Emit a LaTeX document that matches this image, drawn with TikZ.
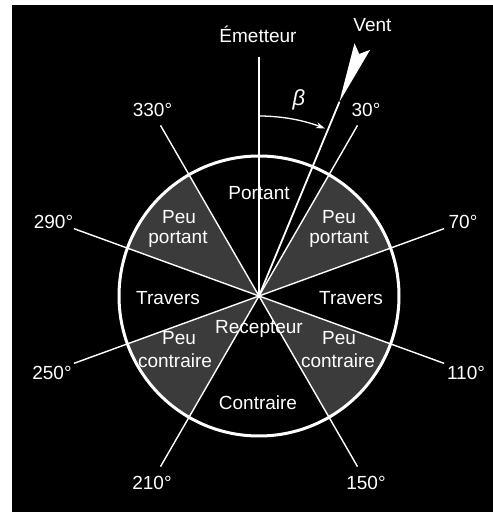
\documentclass[tikz,border=0pt]{standalone}
\usepackage{fontspec}
\setmainfont{Liberation Sans}
\usetikzlibrary{calc,arrows.meta}
\begin{document}
\begin{tikzpicture}[x=1pt,y=1pt,
  lbl/.style={text=white, font=\fontsize{19}{21}\selectfont, inner sep=0pt, anchor=base},
  radial/.style={draw=white, line width=1.4pt},
  shade/.style={fill=black!77},
]
\useasboundingbox (0,0) rectangle (493,512);
\fill[white] (0,0) rectangle (493,512);
\fill[black] (12,0) rectangle (493,507);

\coordinate (C) at (259,216);
% shaded sectors
\foreach \a in {20,-60,-160,120}{
  \fill[shade] (C) -- ($(C)+(\a:140)$) arc[start angle=\a, delta angle=40, radius=140pt] -- cycle;
}
% radial line ends
\coordinate (e30) at ($(C)+(60:197)$);
\coordinate (e70) at ($(C)+(20:197)$);
\coordinate (e110) at ($(C)+(-20:197)$);
\coordinate (e150) at ($(C)+(-60:197)$);
\coordinate (e210) at ($(C)+(-120:197)$);
\coordinate (e250) at ($(C)+(-160:197)$);
\coordinate (e290) at ($(C)+(160:197)$);
\coordinate (e330) at ($(C)+(120:197)$);
\foreach \e in {e30,e70,e110,e150,e210,e250,e290,e330}{
  \draw[radial] (C) -- (\e);
}
\draw[white, line width=3pt] (C) circle[radius=140pt];
\coordinate (top) at (259,455);
\draw[white, line width=2pt] (C) -- (top);

% wind
\coordinate (wtip) at ($(C)+(67.5:210)$);
\coordinate (wbl) at ($(C)+(67.5:270)+(157.5:8.5)$);
\coordinate (wbr) at ($(C)+(67.5:270)+(-22.5:8.5)$);
\coordinate (wn) at ($(C)+(67.5:262)$);
\draw[white, line width=1.8pt] (C) -- (wtip);
\fill[white] (wtip) -- (wbl) -- (wn) -- (wbr) -- cycle;

% beta arc
\coordinate (bs) at ($(C)+(90:180)$);
\draw[white, line width=1.3pt, -{Stealth[length=9pt,width=6pt]}] (bs) arc[start angle=90, end angle=68.5, radius=180pt];
\node[lbl, font=\fontsize{22}{24}\selectfont] (beta) at (299,406) {\itshape β};

% outer labels
\node[lbl] (emet) at (258,469.3) {Émetteur};
\node[lbl] (vent) at (372.5,480.3) {Vent};
\node[lbl] (l330) at (152.5,395.3) {330°};
\node[lbl] (l30) at (366,395) {30°};
\node[lbl] (l290) at (53.5,283.7) {290°};
\node[lbl] (l70) at (463,283.5) {70°};
\node[lbl] (l250) at (52,132) {250°};
\node[lbl] (l110) at (466,132) {110°};
\node[lbl] (l210) at (152,22) {210°};
\node[lbl] (l150) at (366,22) {150°};

% sector labels
\node[lbl] (portant) at (259,312.5) {Portant};
\node[lbl] (pp1L) at (179,288.7) {Peu};
\node[lbl] (pp2L) at (178,268) {portant};
\node[lbl] (pp1R) at (339,288.7) {Peu};
\node[lbl] (pp2R) at (339,268) {portant};
\node[lbl] (travL) at (168,207) {Travers};
\node[lbl] (travR) at (351,207) {Travers};
\node[lbl] (recep) at (259,178) {Recepteur};
\node[lbl] (pc1L) at (179,167) {Peu};
\node[lbl] (pc2L) at (175,144) {contraire};
\node[lbl] (pc1R) at (339,167) {Peu};
\node[lbl] (pc2R) at (338,144) {contraire};
\node[lbl] (contr) at (258,102) {Contraire};
\end{tikzpicture}
\end{document}
